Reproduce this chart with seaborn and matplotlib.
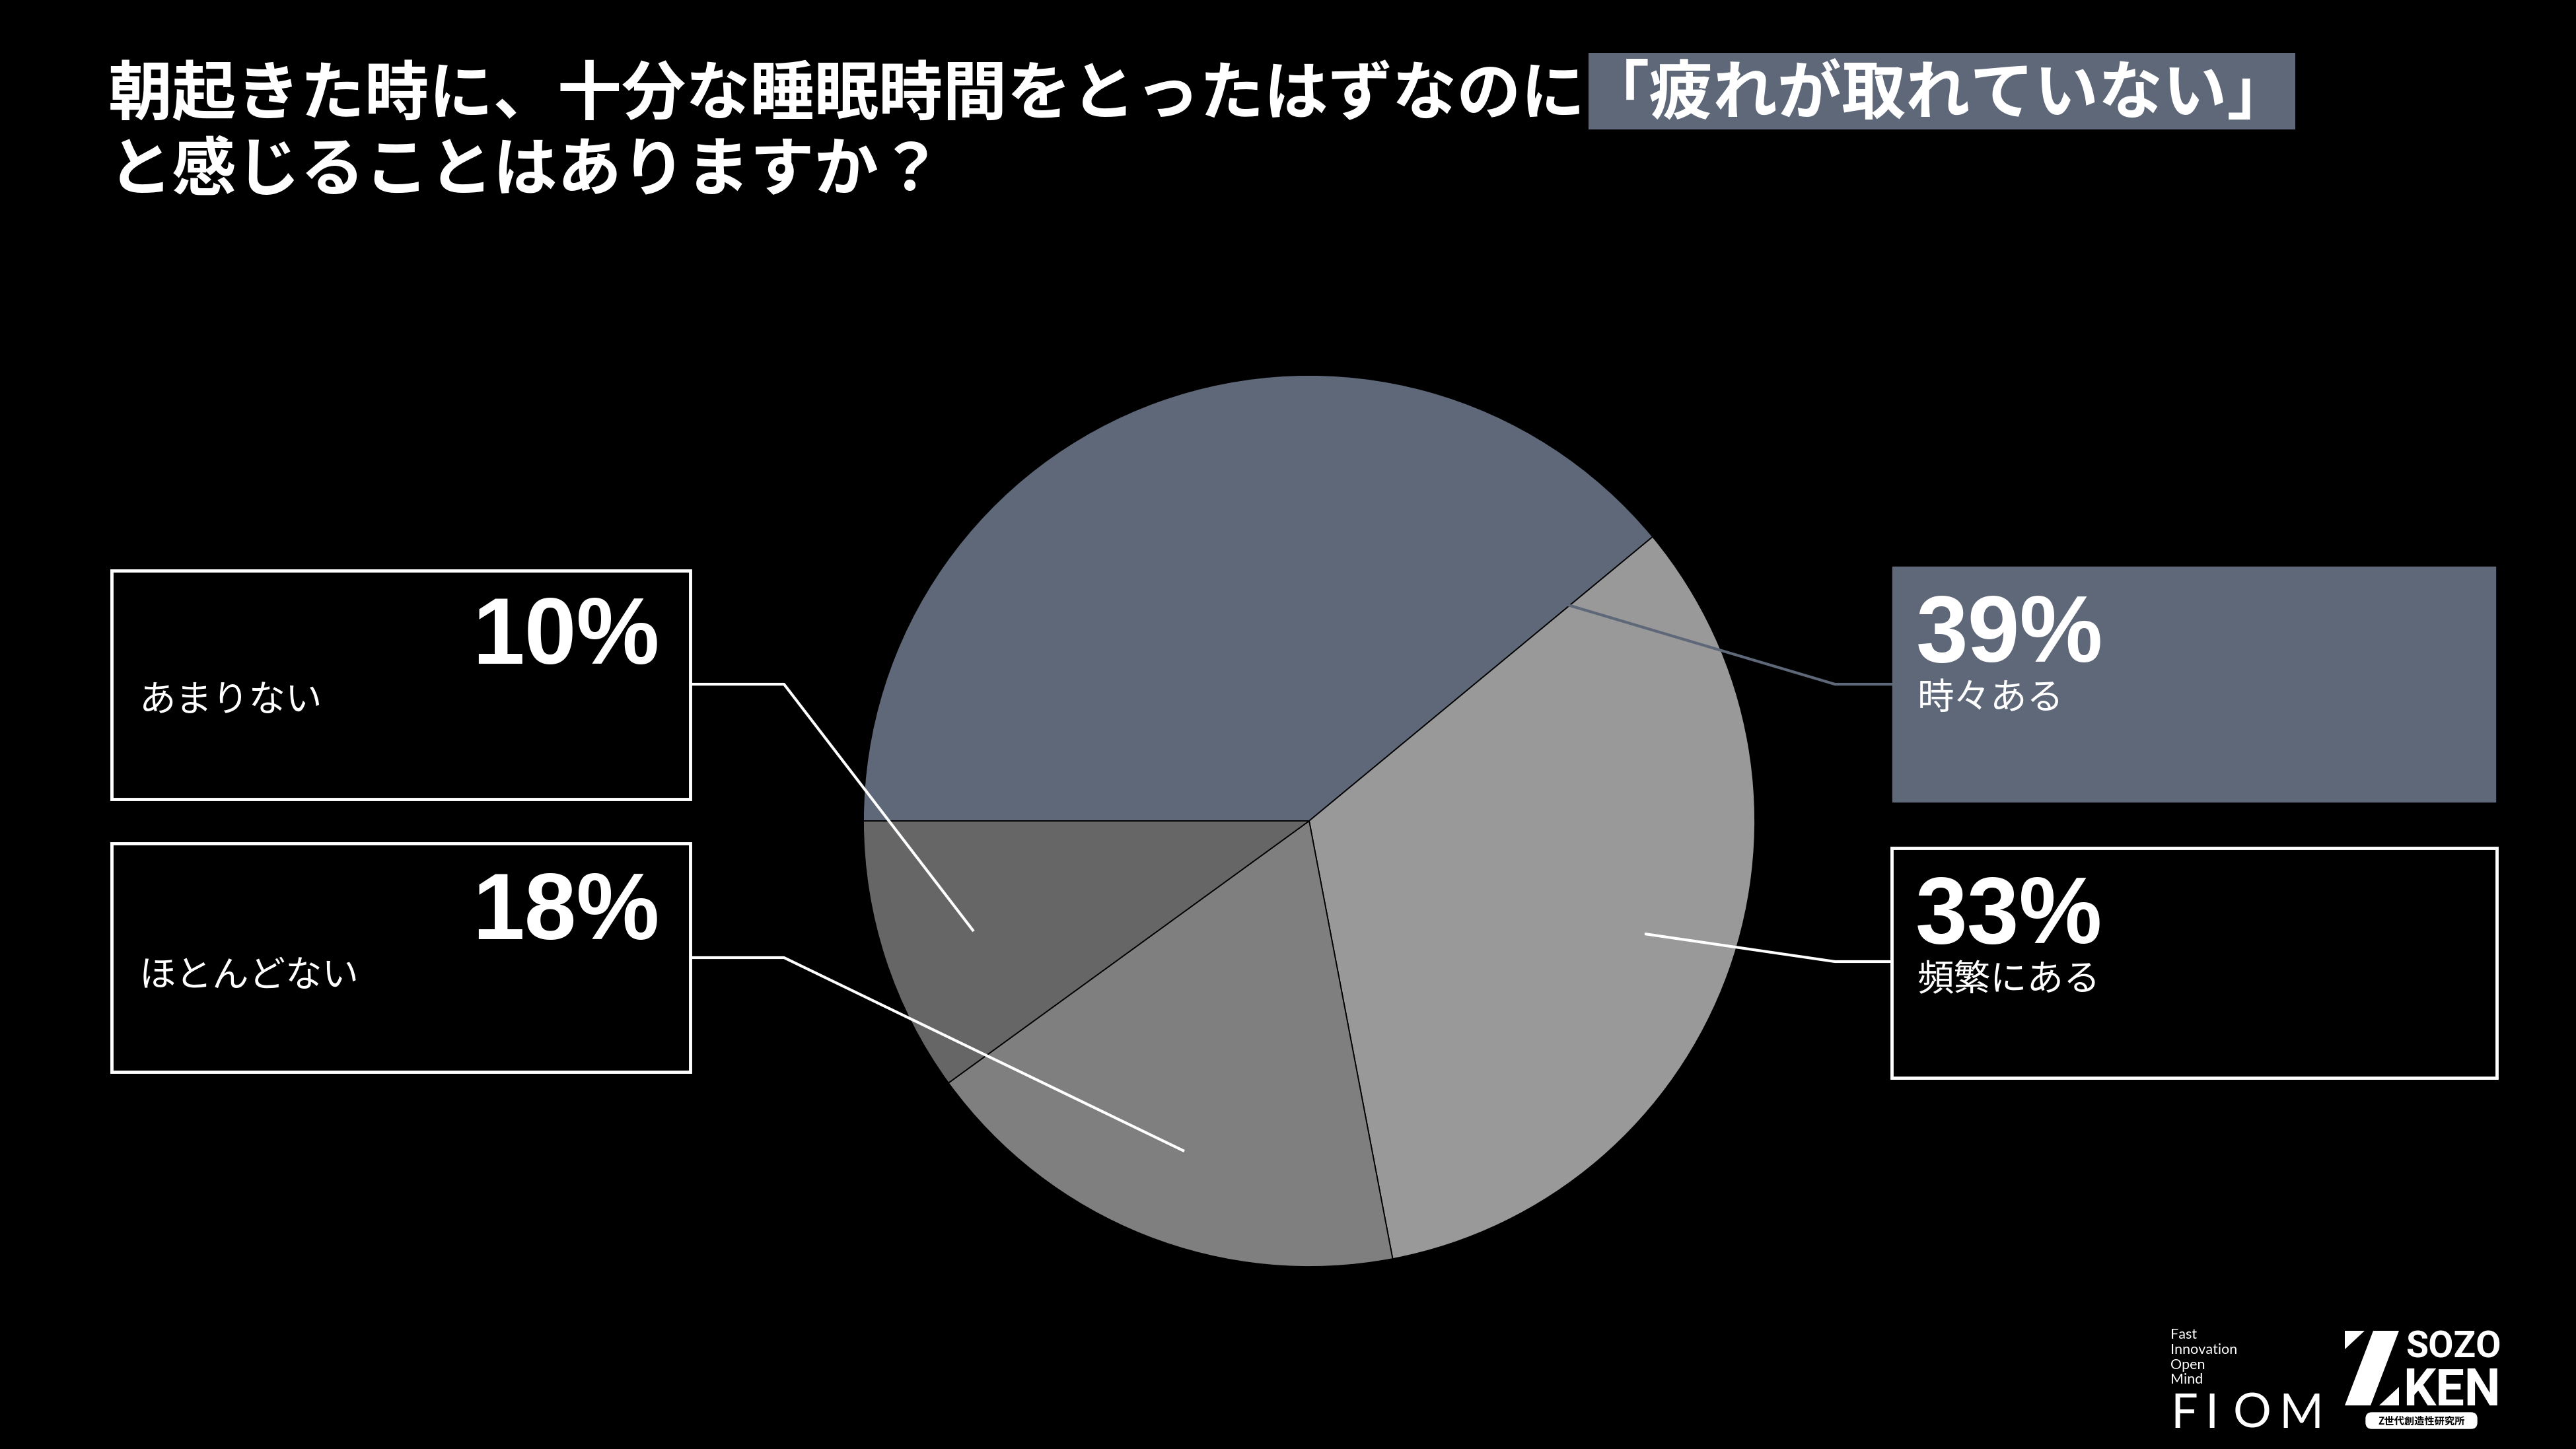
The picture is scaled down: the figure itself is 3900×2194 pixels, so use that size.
import matplotlib
matplotlib.use("Agg")
import matplotlib.pyplot as plt
from matplotlib.patches import Rectangle, Polygon, FancyBboxPatch
import seaborn as sns

# Data
labels = ["時々ある", "頻繁にある", "ほとんどない", "あまりない"]
shares = [39, 33, 18, 10]
slice_colors = ["#5E6879", "#999999", "#7F7F7F", "#666666"]

title_line1 = "朝起きた時に、十分な睡眠時間をとったはずなのに"
title_highlight = "「疲れが取れていない」"
title_line2 = "と感じることはありますか？"

# Layout (pixel coordinates on a 3900x2194 canvas)
W, H = 3900, 2194
SLATE = "#5E6879"
PIE_CENTER = (1982, 1243)
PIE_RADIUS = 675

# box: (x0, y0, x1, y1), filled?, side, pct baseline y, label center y, leader path
callouts = {
    "時々ある": dict(box=(2865, 858, 3778, 1214), filled=True, side="right",
                 pct_y=1002, lab_y=1058,
                 leader=[(2367, 914), (2778, 1036), (2865, 1036)]),
    "頻繁にある": dict(box=(2864, 1284, 3780, 1632), filled=False, side="right",
                  pct_y=1428, lab_y=1484,
                  leader=[(2490, 1414), (2778, 1456), (2864, 1456)]),
    "ほとんどない": dict(box=(169, 1277, 1045, 1623), filled=False, side="left",
                   pct_y=1422, lab_y=1478,
                   leader=[(1793, 1743), (1187, 1450), (1045, 1450)]),
    "あまりない": dict(box=(169, 864, 1045, 1210), filled=False, side="left",
                  pct_y=1005, lab_y=1061,
                  leader=[(1474, 1410), (1187, 1036), (1045, 1036)]),
}

sns.set_theme(style="dark", rc={"axes.facecolor": "black", "figure.facecolor": "black",
                                "savefig.facecolor": "black"})
plt.rcParams["font.family"] = ["Noto Sans CJK JP", "DejaVu Sans"]

fig = plt.figure(figsize=(W / 100, H / 100), dpi=100)
fig.patch.set_facecolor("black")

# Pie axes
cx, cy = PIE_CENTER
ax = fig.add_axes([(cx - PIE_RADIUS) / W, (H - cy - PIE_RADIUS) / H,
                   2 * PIE_RADIUS / W, 2 * PIE_RADIUS / H])
ax.pie(shares, colors=slice_colors, startangle=180, counterclock=False,
       wedgeprops=dict(edgecolor="black", linewidth=1.3))
ax.set_xlim(-1, 1)
ax.set_ylim(-1, 1)
ax.set_aspect("equal")
ax.axis("off")

# Overlay axes in pixel coordinates for callouts, title and logos
ov = fig.add_axes([0, 0, 1, 1])
ov.set_xlim(0, W)
ov.set_ylim(H, 0)
ov.axis("off")
ov.patch.set_alpha(0)

for lab, val in zip(labels, shares):
    c = callouts[lab]
    x0, y0, x1, y1 = c["box"]
    if c["filled"]:
        ov.add_patch(Rectangle((x0, y0), x1 - x0, y1 - y0, facecolor=SLATE,
                               edgecolor=SLATE, linewidth=1))
        line_col = SLATE
    else:
        ov.add_patch(Rectangle((x0, y0), x1 - x0, y1 - y0, facecolor="black",
                               edgecolor="white", linewidth=3.5))
        line_col = "white"
    xs = [p[0] for p in c["leader"]]
    ys = [p[1] for p in c["leader"]]
    ov.plot(xs, ys, color=line_col, linewidth=3, solid_capstyle="butt", zorder=3)

    if c["side"] == "right":
        ov.text(x0 + 36, c["pct_y"], f"{val}%", color="white", fontsize=102,
                fontweight="bold", family="Liberation Sans", ha="left", va="baseline")
        ov.text(x0 + 38, c["lab_y"], lab, color="white", fontsize=40,
                ha="left", va="center")
    else:
        ov.text(x1 - 46, c["pct_y"], f"{val}%", color="white", fontsize=102,
                fontweight="bold", family="Liberation Sans", ha="right", va="baseline")
        ov.text(x0 + 42, c["lab_y"], lab, color="white", fontsize=40,
                ha="left", va="center")

# Title
ov.text(164, 144, title_line1, color="white", fontsize=70, fontweight="bold",
        ha="left", va="center")
ov.add_patch(Rectangle((2405, 80), 1070, 116, facecolor=SLATE, edgecolor="none"))
ov.text(2935, 144, title_highlight, color="white", fontsize=70, fontweight="bold",
        ha="center", va="center")
ov.text(164, 259, title_line2, color="white", fontsize=70, fontweight="bold",
        ha="left", va="center")

# FIOM logo
for word, base in zip(["Fast", "Innovation", "Open", "Mind"], [2027, 2050, 2073, 2095]):
    ov.text(3286, base, word, color="white", fontsize=15.5, family="Lato",
            ha="left", va="baseline")
for ch, xl in zip("FIOM", [3286, 3338, 3381, 3450]):
    ov.text(xl, 2162, ch, color="white", fontsize=52, family="Lato",
            ha="left", va="baseline")

# SOZO KEN logo
ov.add_patch(Polygon([(3550, 2015), (3580, 2015), (3550, 2043)], closed=True,
                     facecolor="white", edgecolor="none"))
ov.add_patch(Polygon([(3593, 2015), (3632, 2015), (3589, 2128), (3550, 2128)],
                     closed=True, facecolor="white", edgecolor="none"))
ov.add_patch(Polygon([(3602, 2128), (3632, 2128), (3632, 2100)], closed=True,
                     facecolor="white", edgecolor="none"))
ov.text(3642, 2055, "SOZO", color="white", fontsize=40, fontweight="bold",
        family="Roboto", ha="left", va="baseline")
ov.text(3638, 2128, "KEN", color="white", fontsize=56, fontweight="bold",
        family="Roboto", ha="left", va="baseline")
ov.add_patch(FancyBboxPatch((3585, 2142), 162, 18, boxstyle="round,pad=3,rounding_size=9",
                            facecolor="white", edgecolor="white"))
ov.text(3666, 2152, "Z世代創造性研究所", color="black", fontsize=11, fontweight="bold",
        ha="center", va="center")

fig.savefig("out.png", dpi=100, facecolor="black")
